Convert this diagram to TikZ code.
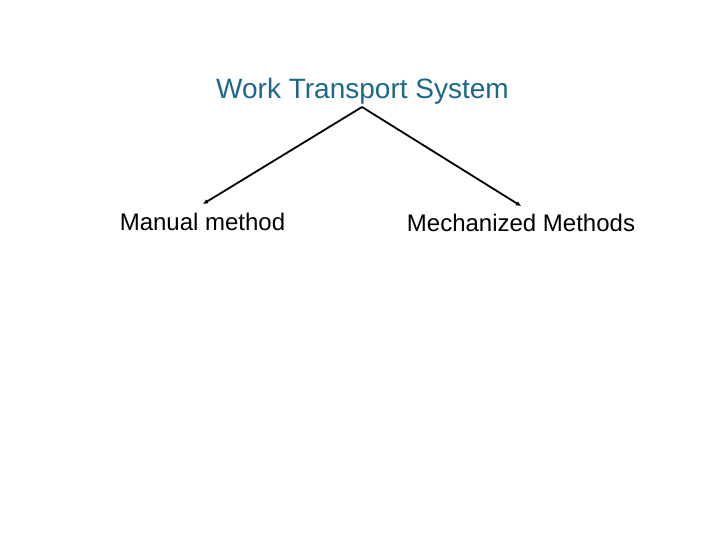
\documentclass[tikz,border=0pt]{standalone}
\usepackage{fontspec}
\setmainfont{Liberation Sans}
\usetikzlibrary{arrows.meta}
\definecolor{titleblue}{RGB}{28,104,140}
\tikzset{
  lbl/.style={inner sep=0pt, outer sep=0pt, anchor=base, font=\fontsize{24}{28}\selectfont},
  ttl/.style={lbl, text=titleblue, font=\fontsize{28}{32}\selectfont},
  conn/.style={line width=1.8pt, -{Latex[length=5pt,width=5pt]}}
}
\begin{document}
\begin{tikzpicture}[x=1pt,y=-1pt]
\useasboundingbox (0,0) rectangle (720,540);
\node[ttl] (title) at (362.5,99) {Work Transport System};
\node[lbl] (manual) at (202.5,230) {Manual method};
\node[lbl] (mech) at (521,231) {Mechanized Methods};
\coordinate (apex) at (362,107);
\coordinate (lt) at (203,204);
\coordinate (rt) at (521,206);
\draw[conn] (apex) -- (lt);
\draw[conn] (apex) -- (rt);
\end{tikzpicture}
\end{document}
